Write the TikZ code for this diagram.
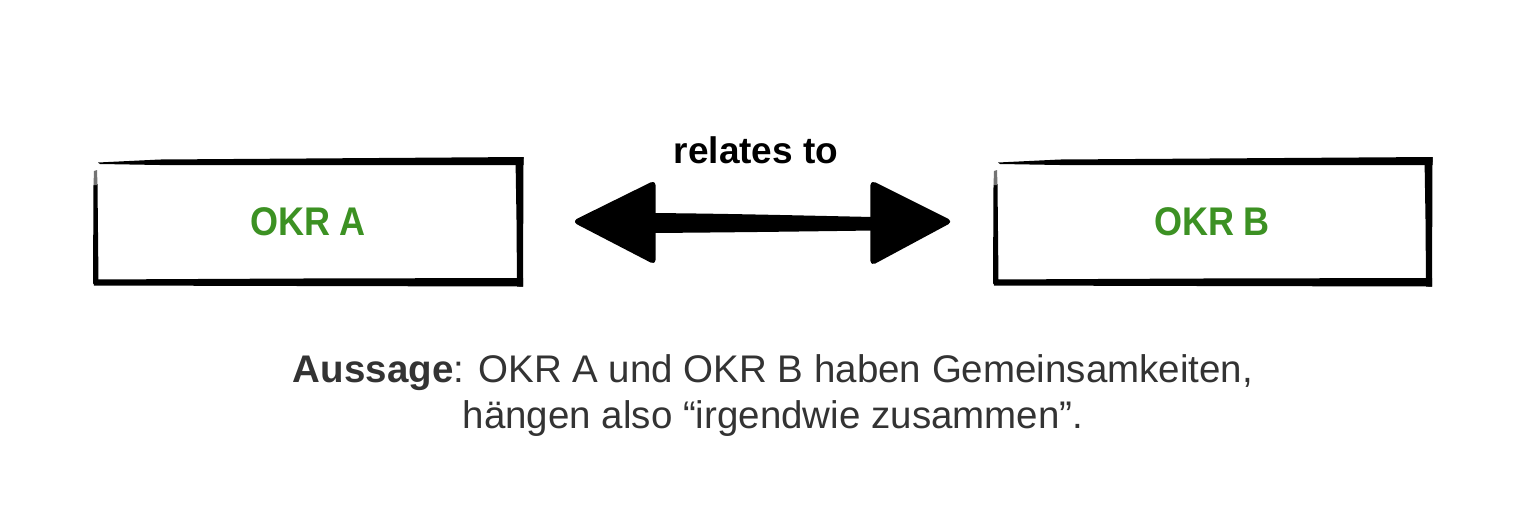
\documentclass[tikz,border=0pt]{standalone}
\usepackage{fontspec}
\setmainfont{Liberation Sans}
\newfontfamily\okrfont[FakeStretch=0.9]{Liberation Sans}
\usetikzlibrary{calc}
\definecolor{okrgreen}{HTML}{3C9123}
\definecolor{textgray}{HTML}{333333}
\tikzset{
  brush/.style={fill=black, draw=none},
  okrbox/.style={minimum width=425pt, minimum height=122pt, inner sep=0pt,
    font=\okrfont\bfseries\fontsize{40}{44}\selectfont, text=okrgreen},
  headfill/.style={fill=black, draw=black, line width=2pt, rounded corners=4pt, line join=round},
  labeltext/.style={font=\bfseries\fontsize{37}{42}\selectfont, text=black, anchor=base, inner sep=0pt},
  bodytext/.style={font=\fontsize{38.5}{46}\selectfont, text=textgray, anchor=base, inner sep=0pt}
}
\begin{document}
\begin{tikzpicture}[x=1pt, y=-1pt]
\useasboundingbox[fill=white] (0,0) rectangle (1536,515);

% boxes (nodes)
\node[okrbox] (boxA) at (308,221.5) {OKR A};
\node[okrbox] (boxB) at (1212,221.5) {OKR B};

% hand-drawn outline of box A
\fill[brush] (98,162.5) -- (160,159.5) -- (523.5,157) -- (523.5,165) -- (160,165) -- (100,164) -- cycle;
\fill[brush] (515.5,158) -- (523.5,157) -- (523,286.5) -- (517,286.5) -- (516.5,220) -- cycle;
\fill[brush] (93,279.5) -- (300,278.5) -- (523,278) -- (523,286.5) -- (300,286) -- (94,285.5) -- cycle;
\fill[brush] (93.5,185) -- (97.5,184) -- (98.5,281) -- (93,284) -- cycle;
\fill[black!55] (94,171) -- (97,170) -- (97.5,185) -- (93.5,185) -- cycle;

% hand-drawn outline of box B
\fill[brush] (998,162.5) -- (1060,159.5) -- (1432.5,157) -- (1432.5,165) -- (1060,165) -- (1000,164) -- cycle;
\fill[brush] (1424.5,158) -- (1432.5,157) -- (1432,286.5) -- (1426,286.5) -- (1425.5,220) -- cycle;
\fill[brush] (993,279.5) -- (1200,278.5) -- (1432,278) -- (1432,286.5) -- (1200,286) -- (994,285.5) -- cycle;
\fill[brush] (993.5,185) -- (997.5,184) -- (998.5,281) -- (993,284) -- cycle;
\fill[black!55] (994,171) -- (997,170) -- (997.5,185) -- (993.5,185) -- cycle;

% double arrow between the boxes
\coordinate (tipL) at ($(boxA.east)+(53,0)$);
\coordinate (tipR) at ($(boxB.west)+(-48,0)$);
\fill[brush] ($(tipL)+(75,-8.5)$) .. controls ($(tipL)+(150,-8)$) and ($(tipR)+(-150,-6)$) .. ($(tipR)+(-78,-4.5)$)
  -- ($(tipR)+(-78,9)$) .. controls ($(tipR)+(-150,10)$) and ($(tipL)+(150,11)$) .. ($(tipL)+(75,11.5)$) -- cycle;
\filldraw[headfill] (tipL) -- ($(tipL)+(81,-40)$) -- ($(tipL)+(81,42)$) -- cycle;
\filldraw[headfill] (tipR) -- ($(tipR)+(-80,-40)$) -- ($(tipR)+(-80,43)$) -- cycle;

% label
\node[labeltext] (rel) at (756,163) {relates to};

% statement
\node[bodytext] (line1) at (773,382) {\textbf{Aussage}: OKR A und OKR B haben Gemeinsamkeiten,};
\node[bodytext] (line2) at (773,428) {hängen also “irgendwie zusammen”.};
\end{tikzpicture}
\end{document}
